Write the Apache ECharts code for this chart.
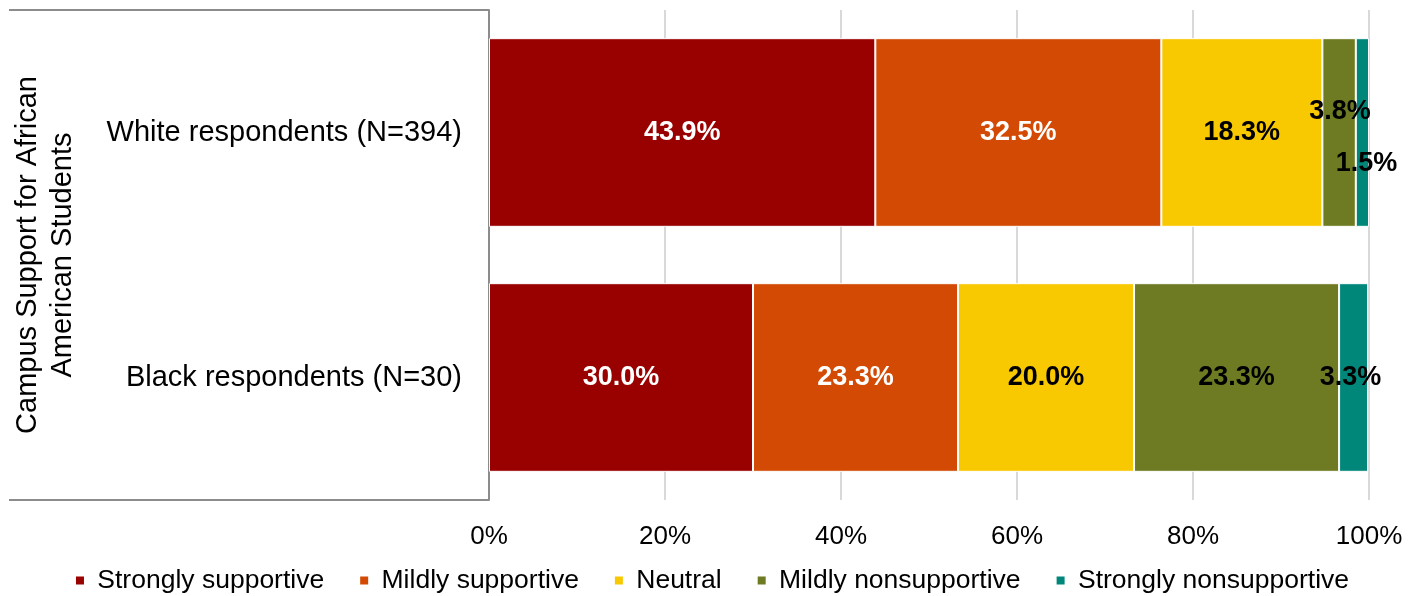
<!DOCTYPE html>
<html>
<head>
<meta charset="utf-8">
<script src="https://cdn.jsdelivr.net/npm/echarts@6/dist/echarts.min.js"></script>
<style>
  html, body { margin: 0; padding: 0; background: #fff; }
  #main { width: 1423px; height: 596px; }
</style>
</head>
<body>
<div id="main"></div>
<script>
var categories = ['White respondents (N=394)', 'Black respondents (N=30)'];
var seriesNames = ['Strongly supportive', 'Mildly supportive', 'Neutral', 'Mildly nonsupportive', 'Strongly nonsupportive'];
var strongSupport = [43.9, 30.0];
var mildSupport = [32.5, 23.3];
var neutral = [18.3, 20.0];
var mildNon = [3.8, 23.3];
var strongNon = [1.5, 3.3];
var xTicks = [0, 20, 40, 60, 80, 100];

var colors = ['#990000', '#D24A04', '#F8C800', '#6E7B22', '#00877A'];
var labelColors = ['#fff', '#fff', '#000', '#000', '#000'];
var values = [strongSupport, mildSupport, neutral, mildNon, strongNon];
// hand-nudged labels, as in the original
var offsets = {
    '3-0': [1, -21],
    '4-0': [4, 31],
    '4-1': [-3, 0]
};

var font = 'Liberation Sans, Arial, sans-serif';
var chart = echarts.init(document.getElementById('main'));

var series = seriesNames.map(function (name, i) {
    return {
        name: name,
        type: 'bar',
        stack: 'total',
        barCategoryGap: '23%',
        itemStyle: { color: colors[i], borderColor: '#fff', borderWidth: 1 },
        data: values[i].map(function (v, j) {
            var d = { value: v };
            if (offsets[i + '-' + j]) {
                d.label = { offset: offsets[i + '-' + j] };
            }
            return d;
        }),
        label: {
            show: true,
            position: 'inside',
            color: labelColors[i],
            fontWeight: 'bold',
            fontSize: 27,
            fontFamily: font,
            formatter: function (p) { return p.value.toFixed(1) + '%'; }
        }
    };
});

var option = {
    animation: false,
    color: colors,
    grid: { left: 489, right: 54, top: 10, bottom: 96, containLabel: false, outerBoundsMode: 'none' },
    xAxis: {
        type: 'value',
        min: 0,
        max: 100,
        interval: 20,
        axisLine: { show: false },
        axisTick: { show: false },
        splitLine: { lineStyle: { color: '#d9d9d9', width: 2 } },
        axisLabel: {
            margin: 24,
            fontSize: 26,
            color: '#000',
            fontFamily: font,
            formatter: function (v) { return xTicks.indexOf(v) >= 0 ? v + '%' : ''; }
        }
    },
    yAxis: {
        type: 'category',
        inverse: true,
        data: categories,
        name: 'Campus Support for African\nAmerican Students',
        nameLocation: 'middle',
        nameRotate: 90,
        nameGap: 409,
        nameTextStyle: { fontSize: 29, color: '#000', fontFamily: font, lineHeight: 35 },
        axisLine: { show: true, lineStyle: { color: '#8c8c8c', width: 2 } },
        axisTick: { show: false },
        axisLabel: { margin: 27, fontSize: 29, color: '#000', fontFamily: font }
    },
    legend: {
        bottom: -3,
        left: 'center',
        itemWidth: 10,
        itemHeight: 10,
        itemGap: 34,
        icon: 'rect',
        formatter: function (n) { return ' ' + n; },
        textStyle: { fontSize: 26.5, color: '#000', fontFamily: font },
        data: seriesNames
    },
    graphic: [
        { type: 'line', shape: { x1: 9, y1: 10, x2: 489, y2: 10 }, style: { stroke: '#8c8c8c', lineWidth: 2 } },
        { type: 'line', shape: { x1: 9, y1: 500, x2: 489, y2: 500 }, style: { stroke: '#8c8c8c', lineWidth: 2 } }
    ],
    series: series
};

chart.setOption(option);
</script>
</body>
</html>
